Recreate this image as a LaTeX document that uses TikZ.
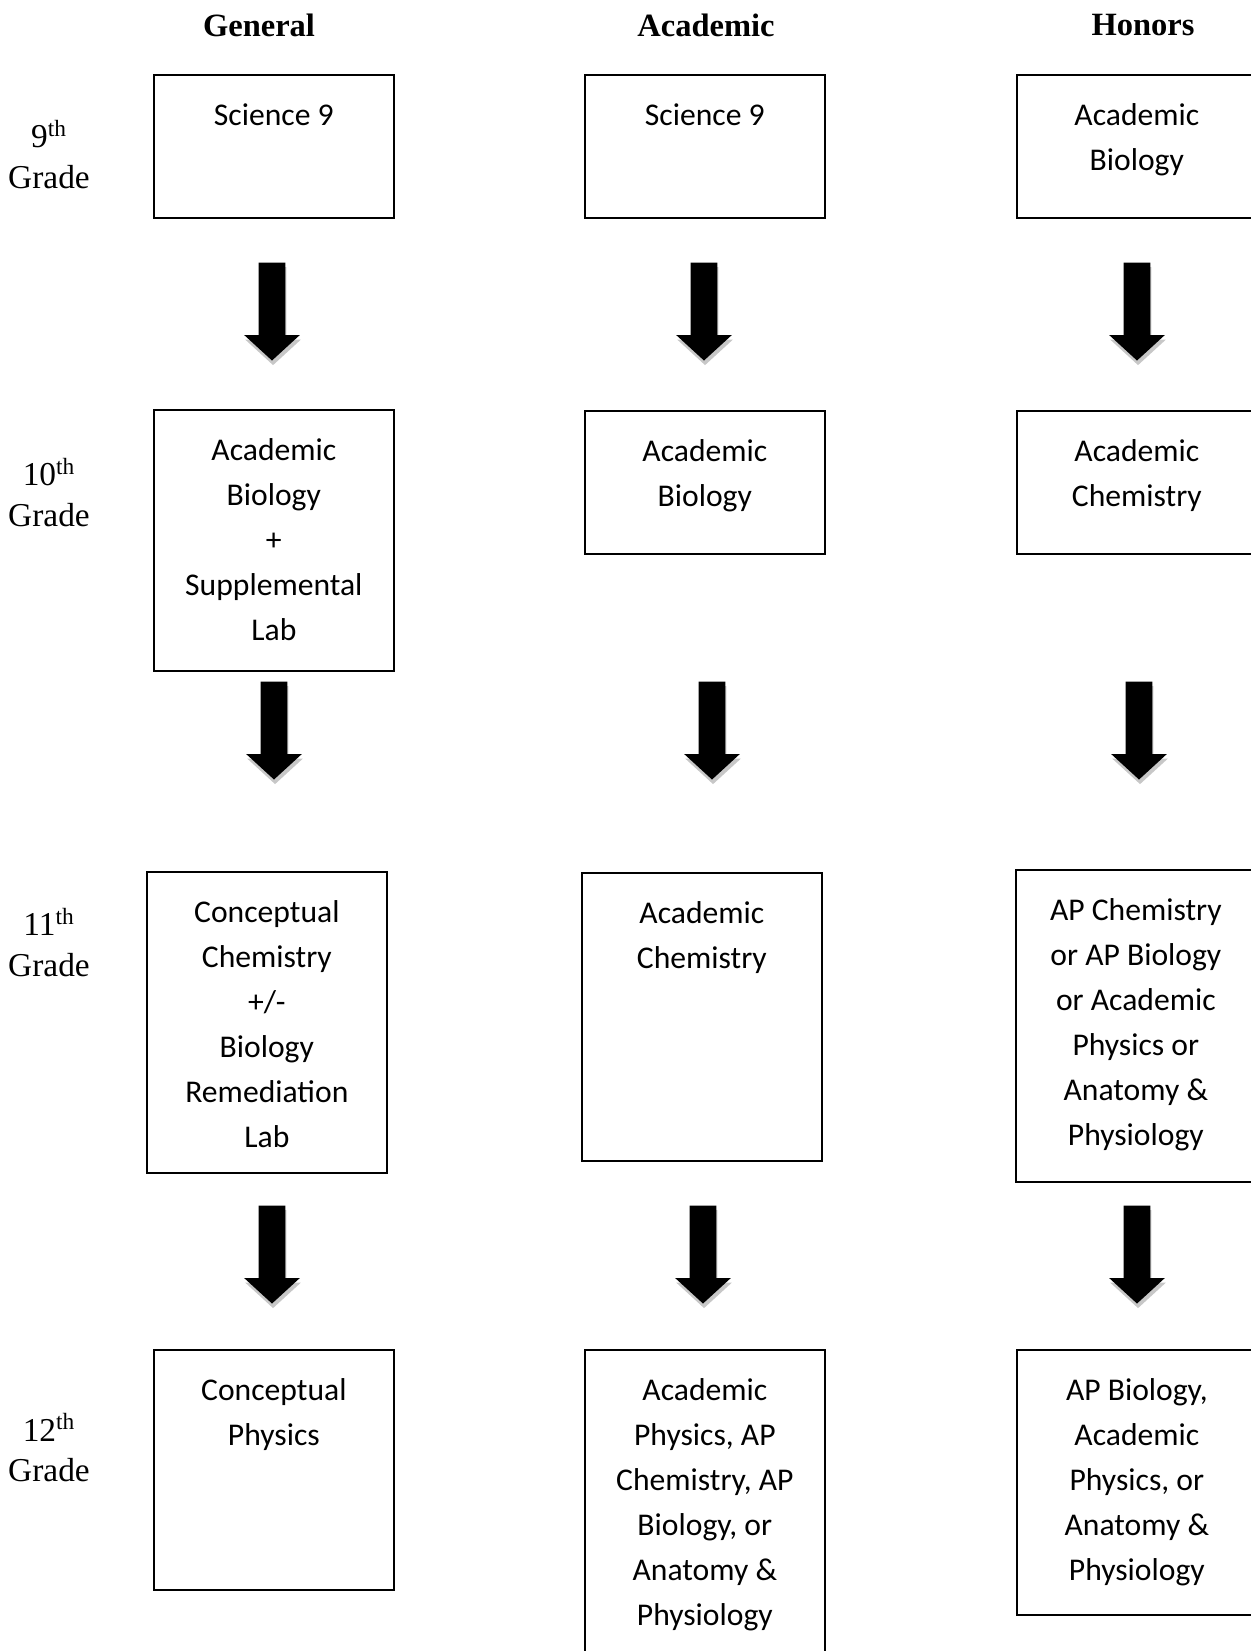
\documentclass[tikz,border=0pt]{standalone}
\usepackage{fontspec}
\setmainfont{Carlito}
\newfontfamily\headfont{Liberation Serif}
\usetikzlibrary{shapes.arrows, shadows}

\newcommand{\crs}[2]{\parbox[c][#1][t]{4.8cm}{\centering\fontsize{18pt}{25.6pt}\selectfont\rule{0pt}{1.02cm}#2}}

\tikzset{
  course/.style={draw, line width=1pt, inner sep=0pt, anchor=north west},
  track/.style={font=\headfont\bfseries\fontsize{18.5pt}{22pt}\selectfont},
  grade/.style={align=center, font=\headfont\fontsize{19pt}{23.3pt}\selectfont},
  down/.style={single arrow, rotate=-90, anchor=tip, fill=black, inner sep=0pt,
    text height=0.52cm, text depth=0pt, minimum height=1.96cm,
    single arrow head extend=0.29cm, single arrow tip angle=95,
    drop shadow={fill=black!22, opacity=1, shadow xshift=0.6pt, shadow yshift=-2.6pt}}
}

\begin{document}
\begin{tikzpicture}[x=0.02cm, y=-0.02cm]
  \useasboundingbox (0,0) rectangle (1251,1651);
  \clip (0,0) rectangle (1251,1651);

  \node[track] (tgen) at (259,25) {General};
  \node[track] (taca) at (706,25) {Academic};
  \node[track] (thon) at (1143,25) {Honors};

  \node[grade] (g9) at (49,155) {9\textsuperscript{th}\\Grade};
  \node[grade] (g10) at (49,493) {10\textsuperscript{th}\\Grade};
  \node[grade] (g11) at (49,943) {11\textsuperscript{th}\\Grade};
  \node[grade] (g12) at (49,1448) {12\textsuperscript{th}\\Grade};

  \node[course] (gen9) at (153,74) {\crs{2.86cm}{Science 9}};
  \node[course] (aca9) at (584,74) {\crs{2.86cm}{Science 9}};
  \node[course] (hon9) at (1016,74) {\crs{2.86cm}{Academic\\Biology}};

  \node[course] (gen10) at (153,409) {\crs{5.22cm}{Academic\\Biology\\+\\Supplemental\\Lab}};
  \node[course] (aca10) at (584,410) {\crs{2.86cm}{Academic\\Biology}};
  \node[course] (hon10) at (1016,410) {\crs{2.86cm}{Academic\\Chemistry}};

  \node[course] (gen11) at (146,871) {\crs{6.02cm}{Conceptual\\Chemistry\\+/-\\Biology\\Remediation\\Lab}};
  \node[course] (aca11) at (581,872) {\crs{5.76cm}{Academic\\Chemistry}};
  \node[course] (hon11) at (1015,869) {\crs{6.24cm}{AP Chemistry\\or AP Biology\\or Academic\\Physics or\\Anatomy \&\\Physiology}};

  \node[course] (gen12) at (153,1349) {\crs{4.8cm}{Conceptual\\Physics}};
  \node[course] (aca12) at (584,1349) {\crs{7.2cm}{Academic\\Physics, AP\\Chemistry, AP\\Biology, or\\Anatomy \&\\Physiology}};
  \node[course] (hon12) at (1016,1349) {\crs{5.3cm}{AP Biology,\\Academic\\Physics, or\\Anatomy \&\\Physiology}};

  \foreach \n/\x/\y in {dg1/272/361, da1/704/361, dh1/1137/361,
                        dg2/274/780, da2/712/780, dh2/1139/780,
                        dg3/272/1304, da3/703/1304, dh3/1137/1304}
    \node[down] (\n) at (\x,\y) {};
\end{tikzpicture}
\end{document}
